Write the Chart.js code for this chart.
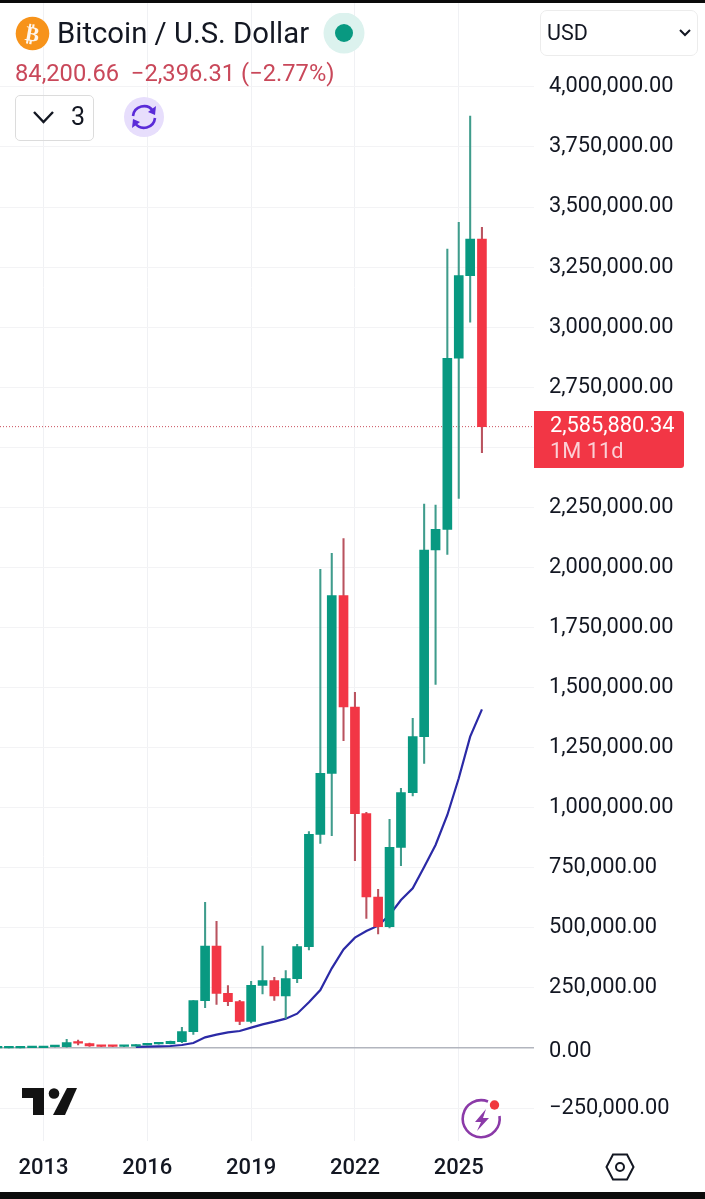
<!DOCTYPE html>
<html>
<head>
<meta charset="utf-8">
<title>Bitcoin / U.S. Dollar</title>
<script src="https://cdn.jsdelivr.net/npm/chart.js@4"></script>
<style>
html,body{margin:0;padding:0;background:#fff;width:705px;height:1199px;overflow:hidden;font-family:Roboto,sans-serif;color:#131722}
#firstlog{position:absolute;left:0;top:0}
.abs{position:absolute;white-space:nowrap}
.bar{position:absolute;left:0;width:705px;background:#0b0b0b}
</style>
</head>
<body>
<canvas id="firstlog" width="705" height="1192" style="width:705px;height:1192px"></canvas>

<div class="bar" style="top:0;height:3px"></div>
<div class="bar" style="top:1192px;height:7px"></div>

<!-- header -->
<svg class="abs" style="left:15px;top:16px" width="35" height="35" viewBox="0 0 35 35"><circle cx="17.5" cy="17.5" r="16.8" fill="#f7931a"/><text x="17.5" y="25" text-anchor="middle" font-family="Roboto" font-weight="700" font-size="21" fill="#fff" opacity=".92" transform="rotate(10 17.5 17.5)">₿</text></svg>
<div class="abs" style="left:57px;top:15px;font-size:29.3px;line-height:36px">Bitcoin / U.S. Dollar</div>
<svg class="abs" style="left:323px;top:13px" width="42" height="42"><circle cx="21" cy="20" r="20.5" fill="#dcf2ee"/><circle cx="21" cy="20" r="9" fill="#089981"/></svg>
<div class="abs" style="left:15px;top:59px;font-size:23.7px;line-height:28px;color:#c9485a">84,200.66&nbsp; −2,396.31 (−2.77%)</div>

<div class="abs" style="left:15px;top:95px;width:77px;height:44px;border:1.5px solid #dcdcdc;border-radius:5px;box-sizing:content-box"></div>
<svg class="abs" style="left:31px;top:108px" width="26" height="18"><path d="M3 4 L12.5 14 L22 4" fill="none" stroke="#131722" stroke-width="2.4"/></svg>
<div class="abs" style="left:71px;top:103px;font-size:25px;line-height:28px">3</div>
<svg class="abs" style="left:123px;top:96px" width="42" height="42" viewBox="0 0 42 42"><circle cx="21" cy="21" r="20" fill="#e7defc"/><path d="M10 20 A11 11 0 0 1 30 15" fill="none" stroke="#5a2bd8" stroke-width="2.6"/><path d="M32 22 A11 11 0 0 1 12 27" fill="none" stroke="#5a2bd8" stroke-width="2.6"/><path d="M33 10 L32 19 L25 16 Z" fill="#5a2bd8"/><path d="M9 32 L10 23 L17 26 Z" fill="#5a2bd8"/></svg>

<div class="abs" style="left:540px;top:10px;width:156px;height:44px;border:1.5px solid #ececec;border-radius:7px"></div>
<div class="abs" style="left:547px;top:19px;font-size:21.5px;line-height:28px">USD</div>
<svg class="abs" style="left:678px;top:28px" width="14" height="10"><path d="M2 2 L7 7 L12 2" fill="none" stroke="#131722" stroke-width="2"/></svg>

<!-- last price tag -->
<div class="abs" style="left:534px;top:411px;width:150px;height:57px;background:#f23645;border-radius:0 3px 3px 0"></div>
<div class="abs" style="left:550px;top:411px;font-size:21.8px;line-height:28px;color:#fff">2,585,880.34</div>
<div class="abs" style="left:550px;top:437px;font-size:21.8px;line-height:28px;color:#fbd0d5">1M 11d</div>

<!-- logo and icons -->
<svg class="abs" style="left:20px;top:1086px" width="60" height="32"><path d="M2 2 H24 V29 H13 V12 H2 Z" fill="#131313"/><circle cx="34" cy="7.5" r="5.3" fill="#131313"/><path d="M47 2 H57 L45 29 H33 Z" fill="#131313"/></svg>
<svg class="abs" style="left:458px;top:1096px" width="48" height="48" viewBox="0 0 48 48"><path d="M30 5.5 A18.5 18.5 0 1 0 41.5 20" fill="none" stroke="#8b3aa8" stroke-width="2.6"/><path d="M28 13 L17 26 H23 L19 35 L31 22 H25 Z" fill="#8b3aa8"/><circle cx="36.5" cy="9" r="4.7" fill="#f0393f"/></svg>
<svg class="abs" style="left:604px;top:1152px" width="32" height="30" viewBox="0 0 32 30"><path d="M9 2.5 H23 L29.5 15 L23 27.5 H9 L2.5 15 Z" fill="none" stroke="#131722" stroke-width="2"/><circle cx="16" cy="15" r="4" fill="none" stroke="#131722" stroke-width="2"/></svg>

<script>
// 4 month candles, x value is the year the candle opens in
const years = [2011.67,2012,2012.33,2012.67,2013,2013.33,2013.67,2014,2014.33,2014.67,2015,2015.33,2015.67,2016,2016.33,2016.67,2017,2017.33,2017.67,2018,2018.33,2018.67,2019,2019.33,2019.67,2020,2020.33,2020.67,2021,2021.33,2021.67,2022,2022.33,2022.67,2023,2023.33,2023.67,2024,2024.33,2024.67,2025,2025.33,2025.67];
const opens = [300,500,800,1000,1400,5500,5500,22200,18000,9000,8000,6500,8000,13000,17000,18000,26400,68000,197000,424500,227500,192800,111000,260800,280200,216400,288500,421700,889300,1143100,1882600,1419200,975300,628500,505000,835200,1062700,1295800,2072700,2158700,2870400,3214500,3367000];
const closes = [500,800,1000,1400,5500,8300,22200,20000,8300,7000,6500,8300,13000,17000,21000,27700,68000,197000,424500,227500,192800,111000,260800,280200,216400,288500,421700,889300,1143100,1882600,1419200,975300,628500,505000,835200,1062700,1295800,2072700,2158700,2870400,3214500,3367000,2585880.34];
const highs = [600,900,1200,1500,6000,9000,36000,33300,20000,9500,8500,9000,14000,18000,22000,29000,86300,197000,606000,527000,259400,198400,277500,424500,294100,321900,431400,900400,1992200,2058800,2119800,1480300,980900,660400,951700,1080700,1372100,2264100,2259900,3325400,3436400,3878900,3415600];
const lows = [200,400,600,900,1200,5000,3000,12500,7000,6000,5500,6000,7500,12000,16000,17000,22000,57000,168000,181700,176200,97100,104000,224700,198400,123500,271900,407900,851800,883700,1279100,779700,539700,474500,500000,758900,1048800,1184800,1513600,2054600,2287700,3020200,2477700];
const maValues = [null,null,null,null,null,null,null,null,null,null,null,null,5000,5500,6900,8300,12500,20800,44400,55500,65200,70700,84600,98500,109600,122100,142900,190100,241400,331600,410000,459200,486900,509100,553500,615900,664500,753300,844900,969700,1122400,1295800,1409500];
const yearTicks = [2013,2016,2019,2022,2025];
const priceTicks = [-250000,0,250000,500000,750000,1000000,1250000,1500000,1750000,2000000,2250000,2500000,2750000,3000000,3250000,3500000,3750000,4000000,4250000];

const xMin = 2011.743, xMax = 2027.16;
const yMin = -387000, yMax = 4349000;

const lastClose = closes[closes.length - 1];
const bodyColors = opens.map((o, i) => closes[i] >= o ? '#089981' : '#f23645');
const wickColors = opens.map((o, i) => closes[i] >= o ? '#3f9c8c' : '#b9535f');

const fmtPrice = v => {
    const s = Math.abs(v).toLocaleString('en-US', {minimumFractionDigits: 2, maximumFractionDigits: 2});
    return (v < 0 ? '\u2212' : '') + s;
};

const firstlog = new Chart("firstlog", {
    type: "bar",
    data: {
        datasets: [
            {
                type: 'bar',
                label: 'Body',
                order: 1,
                data: years.map((x, i) => ({x: x, y: [opens[i], closes[i]]})),
                backgroundColor: bodyColors,
                barThickness: 9,
                minBarLength: 1.6,
                grouped: false
            },
            {
                type: 'bar',
                label: 'Wick',
                order: 2,
                data: years.map((x, i) => ({x: x, y: [lows[i], highs[i]]})),
                backgroundColor: wickColors,
                barThickness: 1.4,
                grouped: false
            },
            {
                type: 'line',
                label: 'MA',
                order: 3,
                data: years.map((x, i) => ({x: x, y: maValues[i]})),
                borderColor: '#2b2aa6',
                borderWidth: 2.2,
                pointRadius: 0,
                tension: 0
            },
            {
                type: 'line',
                label: 'Last price',
                order: 4,
                data: [{x: xMin, y: lastClose}, {x: xMax, y: lastClose}],
                borderColor: '#c9505c',
                borderWidth: 1,
                borderDash: [1, 2],
                pointRadius: 0
            }
        ]
    },
    options: {
        responsive: false,
        animation: false,
        devicePixelRatio: 1,
        layout: {padding: {top: 3}},
        plugins: {legend: {display: false}, tooltip: {enabled: false}},
        scales: {
            x: {
                type: 'linear',
                offset: false,
                min: xMin,
                max: xMax,
                afterBuildTicks: s => { s.ticks = yearTicks.map(v => ({value: v})); },
                afterFit: s => { s.height = 51; s.paddingLeft = 0; s.paddingRight = 0; },
                border: {display: false},
                grid: {offset: false, color: '#f0f1f4', drawTicks: false},
                ticks: {
                    autoSkip: false,
                    maxRotation: 0,
                    padding: 14,
                    color: '#131722',
                    font: {family: 'Roboto', size: 22, weight: '500'},
                    callback: v => String(v)
                }
            },
            y: {
                position: 'right',
                min: yMin,
                max: yMax,
                afterBuildTicks: s => { s.ticks = priceTicks.map(v => ({value: v})); },
                afterFit: s => { s.width = 171.5; s.paddingTop = 0; s.paddingBottom = 0; },
                border: {display: false},
                grid: {
                    drawTicks: false,
                    color: c => c.tick && c.tick.value === 0 ? '#b2b5be' : '#f3f3f5',
                    lineWidth: c => c.tick && c.tick.value === 0 ? 1.5 : 1
                },
                ticks: {
                    autoSkip: false,
                    crossAlign: 'near',
                    padding: 15.5,
                    color: '#131722',
                    // the 0.00 label sits lower than the others, blank first line pushes it down
                    font: c => ({family: 'Roboto', size: 21.8, lineHeight: c.tick && c.tick.value === 0 ? 0.28 : 1.2}),
                    callback: v => v > 4000000 ? null : (v === 0 ? ['', fmtPrice(v)] : fmtPrice(v))
                }
            }
        }
    }
});
</script>
</body>
</html>
